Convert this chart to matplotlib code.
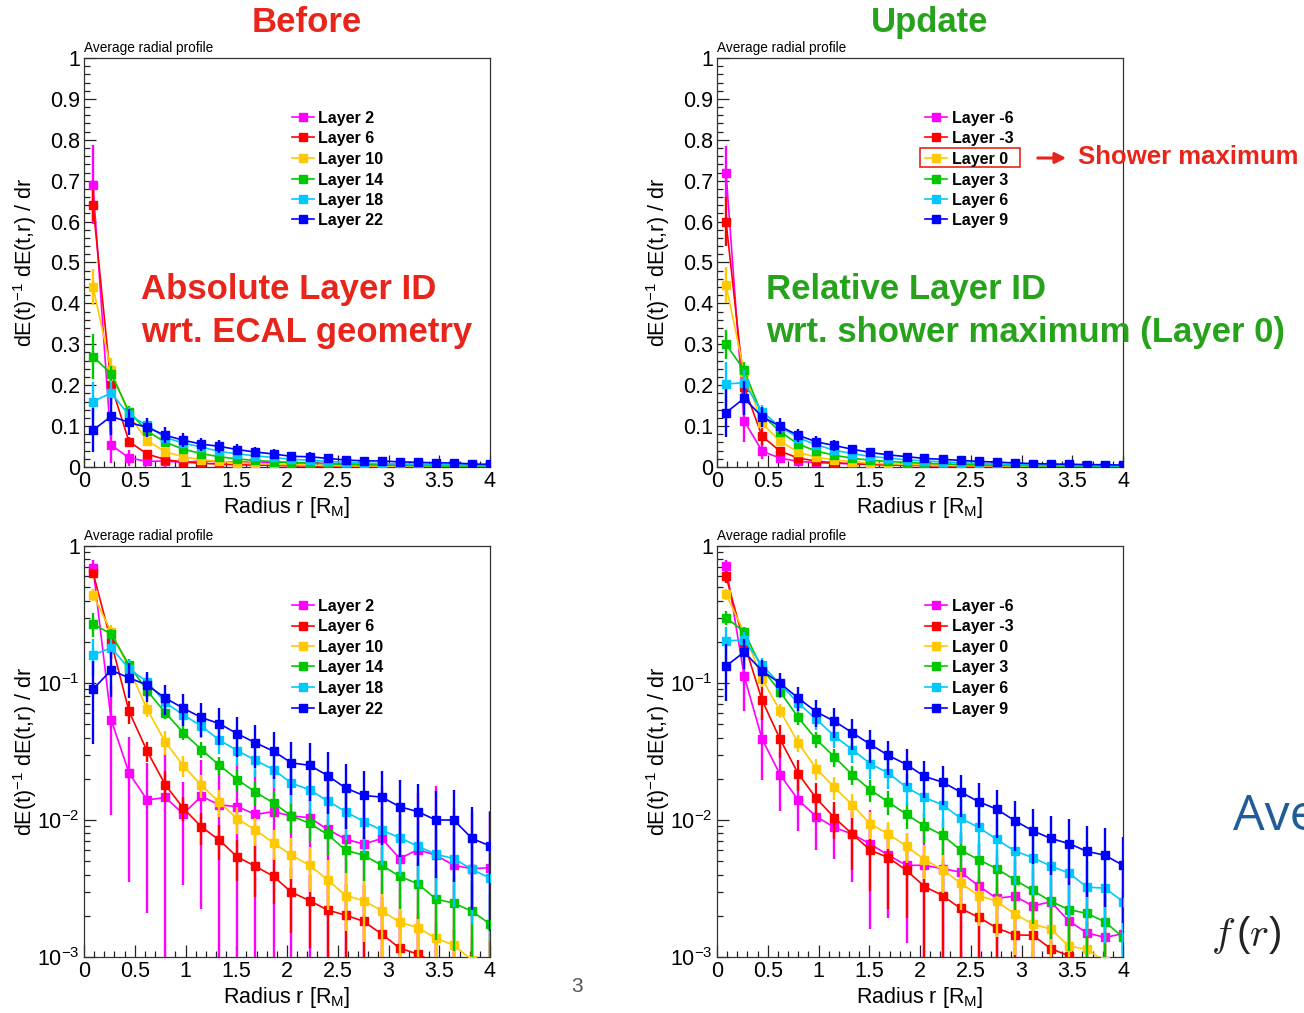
import numpy as np
import matplotlib
matplotlib.use("Agg")
import matplotlib.pyplot as plt
from matplotlib.lines import Line2D
from matplotlib.patches import Rectangle, FancyArrowPatch
from matplotlib.ticker import FixedLocator, MultipleLocator, LogLocator, NullFormatter

plt.rcParams['font.family'] = ['Liberation Sans', 'DejaVu Sans']
plt.rcParams['mathtext.fontset'] = 'custom'
plt.rcParams['mathtext.rm'] = 'Liberation Sans'
plt.rcParams['mathtext.it'] = 'Liberation Sans:italic'
plt.rcParams['mathtext.bf'] = 'Liberation Sans:bold'
plt.rcParams['mathtext.default'] = 'regular'

# ---------------------------------------------------------------- data
# radial bin centres in units of the Moliere radius
radius = [0.089, 0.267, 0.444, 0.622, 0.800, 0.978, 1.156, 1.333, 1.511, 1.689,
          1.867, 2.044, 2.222, 2.400, 2.578, 2.756, 2.933, 3.111, 3.289, 3.467,
          3.644, 3.822, 4.000]

series_colors = ['#ff00ff', '#ff0000', '#ffc800', '#00c800', '#00c8ff', '#0000ff']

# "Before": absolute layer ID wrt. ECAL geometry
before_labels = ['Layer 2', 'Layer 6', 'Layer 10', 'Layer 14', 'Layer 18', 'Layer 22']
before_layer2 = [0.69, 0.054, 0.022, 0.0140, 0.0146, 0.0111, 0.0149, 0.0129, 0.0125, 0.0110,
                 0.0115, 0.0107, 0.0104, 0.00854, 0.00725, 0.00667, 0.00733, 0.00523, 0.00608,
                 0.00553, 0.00467, 0.00441, 0.00449]
before_layer6 = [0.64, 0.20, 0.062, 0.0318, 0.0181, 0.0122, 0.00893, 0.00713, 0.00537, 0.00459,
                 0.00388, 0.00297, 0.00258, 0.00220, 0.00202, 0.00182, 0.00147, 0.00116, 0.00105,
                 0.00090, 0.00080, 0.00070, 0.00065]
before_layer10 = [0.44, 0.237, 0.127, 0.0644, 0.0372, 0.0249, 0.0179, 0.0135, 0.0102, 0.00844,
                  0.00681, 0.00553, 0.00467, 0.00366, 0.00281, 0.00258, 0.00218, 0.00179, 0.00164,
                  0.00137, 0.00122, 0.00095, 0.00080]
before_layer14 = [0.27, 0.228, 0.135, 0.0879, 0.0608, 0.0434, 0.0327, 0.0251, 0.0197, 0.0160,
                  0.0133, 0.0107, 0.00945, 0.00785, 0.00602, 0.00553, 0.00467, 0.00388, 0.00342,
                  0.00265, 0.00247, 0.00216, 0.00174]
before_layer18 = [0.16, 0.181, 0.127, 0.102, 0.0721, 0.0585, 0.0486, 0.0383, 0.0321, 0.0273,
                  0.0233, 0.0186, 0.0166, 0.0138, 0.0115, 0.00973, 0.00844, 0.00741, 0.00644,
                  0.00562, 0.00523, 0.00436, 0.00377]
before_layer22 = [0.09, 0.124, 0.109, 0.0967, 0.0776, 0.0655, 0.0560, 0.0505, 0.0426, 0.0366,
                  0.0318, 0.0261, 0.0251, 0.0211, 0.0171, 0.0151, 0.0147, 0.0125, 0.0115,
                  0.0100, 0.0100, 0.00733, 0.00647]

# relative uncertainties (error / value)
before_err2 = [0.14, 0.80, 0.84, 0.85, 1.10, 0.70, 0.85, 1.05, 1.10, 1.10, 1.10, 1.20, 1.20,
               1.30, 1.30, 1.40, 1.40, 1.50, 1.60, 2.20, 1.60, 1.60, 1.60]
before_err6 = [0.06, 0.25, 0.19, 0.17, 0.25, 0.20, 0.27, 0.28, 0.33, 0.40, 0.37, 0.50, 0.55,
               0.65, 0.70, 0.80, 0.85, 0.90, 0.95, 1.00, 1.00, 1.00, 1.00]
before_err10 = [0.10, 0.12, 0.12, 0.12, 0.20, 0.17, 0.19, 0.22, 0.22, 0.23, 0.25, 0.33, 0.36,
                0.40, 0.45, 0.50, 0.55, 0.60, 0.65, 0.70, 0.75, 0.80, 0.85]
before_err14 = [0.20, 0.08, 0.10, 0.10, 0.10, 0.12, 0.14, 0.15, 0.17, 0.19, 0.22, 0.25, 0.27,
                0.30, 0.32, 0.35, 0.38, 0.42, 0.45, 0.50, 0.55, 0.60, 0.65]
before_err18 = [0.30, 0.15, 0.15, 0.14, 0.15, 0.17, 0.19, 0.21, 0.23, 0.25, 0.27, 0.30, 0.32,
                0.35, 0.38, 0.41, 0.44, 0.47, 0.50, 0.53, 0.56, 0.60, 0.65]
before_err22 = [0.60, 0.36, 0.29, 0.25, 0.25, 0.26, 0.28, 0.30, 0.32, 0.35, 0.37, 0.42, 0.45,
                0.48, 0.50, 0.52, 0.55, 0.57, 0.60, 0.62, 0.65, 0.70, 0.76]

# "Update": layer ID relative to the shower maximum (Layer 0)
update_labels = ['Layer -6', 'Layer -3', 'Layer 0', 'Layer 3', 'Layer 6', 'Layer 9']
update_layer_m6 = [0.72, 0.113, 0.039, 0.0214, 0.0140, 0.0106, 0.00883, 0.00789, 0.00667, 0.00553,
                   0.00467, 0.00467, 0.00441, 0.00417, 0.00330, 0.00268, 0.00278, 0.00236, 0.00253,
                   0.00183, 0.00150, 0.00139, 0.00148]
update_layer_m3 = [0.60, 0.196, 0.075, 0.0388, 0.0218, 0.0144, 0.0104, 0.00789, 0.00602, 0.00531,
                   0.00429, 0.00327, 0.00281, 0.00226, 0.00195, 0.00163, 0.00145, 0.00144, 0.00115,
                   0.00102, 0.00090, 0.00080, 0.00070]
update_layer_0 = [0.445, 0.233, 0.107, 0.0626, 0.0366, 0.0237, 0.0173, 0.0129, 0.00935, 0.00789,
                  0.00644, 0.00514, 0.00434, 0.00346, 0.00281, 0.00255, 0.00206, 0.00174, 0.00160,
                  0.00120, 0.00114, 0.00093, 0.00080]
update_layer_3 = [0.30, 0.237, 0.127, 0.0864, 0.0560, 0.0388, 0.0289, 0.0214, 0.0166, 0.0135,
                  0.0110, 0.00904, 0.00776, 0.00602, 0.00514, 0.00441, 0.00366, 0.00306, 0.00255,
                  0.00222, 0.00208, 0.00181, 0.00139]
update_layer_6 = [0.203, 0.206, 0.135, 0.0983, 0.0713, 0.0544, 0.0410, 0.0327, 0.0257, 0.0220,
                  0.0173, 0.0146, 0.0129, 0.0103, 0.00883, 0.00721, 0.00595, 0.00531, 0.00461,
                  0.00410, 0.00324, 0.00318, 0.00254]
update_layer_9 = [0.133, 0.168, 0.123, 0.0994, 0.0776, 0.0616, 0.0526, 0.0434, 0.0356, 0.0296,
                  0.0254, 0.0208, 0.0189, 0.0160, 0.0136, 0.0120, 0.00989, 0.00835, 0.00733,
                  0.00673, 0.00591, 0.00553, 0.00467]

update_err_m6 = [0.09, 0.45, 0.50, 0.46, 0.41, 0.43, 0.41, 0.55, 0.76, 0.65, 0.73, 0.85, 0.90,
                 0.95, 1.00, 1.00, 1.00, 1.05, 1.05, 1.10, 1.10, 1.10, 1.10]
update_err_m3 = [0.10, 0.15, 0.28, 0.27, 0.25, 0.30, 0.30, 0.45, 0.50, 0.58, 0.55, 0.70, 0.80,
                 0.85, 0.90, 0.95, 1.00, 1.00, 1.00, 1.00, 1.00, 1.00, 1.00]
update_err_0 = [0.10, 0.10, 0.12, 0.12, 0.14, 0.17, 0.19, 0.20, 0.22, 0.22, 0.25, 0.28, 0.32,
                0.36, 0.40, 0.45, 0.50, 0.55, 0.60, 0.65, 0.70, 0.75, 0.80]
update_err_3 = [0.12, 0.08, 0.10, 0.10, 0.12, 0.13, 0.15, 0.16, 0.18, 0.20, 0.22, 0.25, 0.28,
                0.31, 0.34, 0.37, 0.40, 0.43, 0.47, 0.50, 0.55, 0.60, 0.65]
update_err_6 = [0.27, 0.15, 0.12, 0.12, 0.14, 0.16, 0.18, 0.20, 0.22, 0.24, 0.26, 0.29, 0.32,
                0.35, 0.38, 0.41, 0.44, 0.47, 0.50, 0.53, 0.56, 0.60, 0.65]
update_err_9 = [0.44, 0.25, 0.20, 0.20, 0.20, 0.22, 0.24, 0.25, 0.27, 0.28, 0.30, 0.30, 0.32,
                0.34, 0.36, 0.38, 0.40, 0.43, 0.46, 0.50, 0.54, 0.58, 0.62]

before_values = [before_layer2, before_layer6, before_layer10,
                 before_layer14, before_layer18, before_layer22]
before_errors = [before_err2, before_err6, before_err10,
                 before_err14, before_err18, before_err22]
update_values = [update_layer_m6, update_layer_m3, update_layer_0,
                 update_layer_3, update_layer_6, update_layer_9]
update_errors = [update_err_m6, update_err_m3, update_err_0,
                 update_err_3, update_err_6, update_err_9]

lin_ticks = [0, 0.1, 0.2, 0.3, 0.4, 0.5, 0.6, 0.7, 0.8, 0.9, 1.0]
lin_tick_labels = ['0', '0.1', '0.2', '0.3', '0.4', '0.5', '0.6', '0.7', '0.8', '0.9', '1']
log_ticks = [1e-3, 1e-2, 1e-1, 1.0]
log_tick_labels = [r'$10^{-3}$', r'$10^{-2}$', r'$10^{-1}$', '1']
x_ticks = [0, 0.5, 1, 1.5, 2, 2.5, 3, 3.5, 4]
x_tick_labels = ['0', '0.5', '1', '1.5', '2', '2.5', '3', '3.5', '4']

RED_TXT = '#e8251a'
GREEN_TXT = '#26a31a'

# ---------------------------------------------------------------- figure
W, H = 1304, 1013
fig = plt.figure(figsize=(W / 100, H / 100), dpi=100)
fig.patch.set_facecolor('white')


def fx(x):
    return x / W


def fy(y):
    return 1 - y / H


def make_axes(x0, x1, ytop, ybot):
    return fig.add_axes([fx(x0), fy(ybot), (x1 - x0) / W, (ybot - ytop) / H])


def draw_profiles(ax, values, errors, log):
    r = np.array(radius)
    for i, (vals, rel, col) in enumerate(zip(values, errors, series_colors)):
        v = np.array(vals)
        e = v * np.array(rel)
        lo = v - e
        hi = v + e
        if log:
            lo = np.clip(lo, 1e-6, None)
        z = 2 + i
        ax.vlines(r, lo, hi, colors=col, lw=1.7, zorder=z)
        ax.plot(r, v, '-', color=col, lw=1.2, zorder=z + 0.2)
        ax.plot(r, v, 's', color=col, ms=6.0, mec=col, zorder=z + 0.4)

    ax.set_xlim(0, 4)
    if log:
        ax.set_yscale('log', nonpositive='clip')
        ax.set_ylim(1e-3, 1)
        ax.yaxis.set_major_locator(FixedLocator(log_ticks))
        ax.set_yticklabels(log_tick_labels)
        ax.yaxis.set_minor_locator(LogLocator(base=10, subs=np.arange(2, 10)))
        ax.yaxis.set_minor_formatter(NullFormatter())
    else:
        ax.set_ylim(0, 1)
        ax.set_yticks(lin_ticks)
        ax.set_yticklabels(lin_tick_labels)
        ax.yaxis.set_minor_locator(MultipleLocator(0.02))
    ax.set_xticks(x_ticks)
    ax.set_xticklabels(x_tick_labels)
    ax.xaxis.set_minor_locator(MultipleLocator(0.1))
    ax.tick_params(which='both', direction='in', top=False, right=False,
                   color='#222222', width=0.9)
    ax.tick_params(which='major', length=8.6, labelsize=15.5, pad=3)
    ax.tick_params(which='minor', length=4.4)
    for s in ax.spines.values():
        s.set_color('#333333')
        s.set_linewidth(0.9)


def draw_legend(x0, x1, xt, ys, labels):
    for y, lab, col in zip(ys, labels, series_colors):
        fig.add_artist(Line2D([fx(x0), fx(x1)], [fy(y), fy(y)], color=col, lw=1.2,
                              transform=fig.transFigure))
        fig.add_artist(Line2D([fx((x0 + x1) / 2)], [fy(y)], marker='s', ms=6.0,
                              color=col, linestyle='none', transform=fig.transFigure))
        fig.text(fx(xt), fy(y), lab, fontsize=11.5, fontweight='bold',
                 ha='left', va='center_baseline', color='black')


panels = [
    (84, 490, 58, 467, before_values, before_errors, False, before_labels),
    (717, 1123, 58, 467, update_values, update_errors, False, update_labels),
    (84, 490, 546, 957, before_values, before_errors, True, before_labels),
    (717, 1123, 546, 957, update_values, update_errors, True, update_labels),
]

legend_rows_top = [117, 137, 158, 178.5, 199, 219]
legend_rows_bottom = [605.5, 625.5, 646, 666, 687, 707.5]

ylabel = r'dE(t)$^{-1}$ dE(t,r) / dr'
xlabel = r'Radius r [R$_{\mathrm{M}}$]'

for (x0, x1, yt, yb, vals, errs, log, labels) in panels:
    ax = make_axes(x0, x1, yt, yb)
    draw_profiles(ax, vals, errs, log)
    fig.text(fx(x0), fy(yt - 6), 'Average radial profile', fontsize=9.8,
             ha='left', va='baseline')
    fig.text(fx(x0 - 59), fy((yt + yb) / 2), ylabel,
             rotation=90, fontsize=15.5, ha='center', va='center')
    fig.text(fx((x0 + x1) / 2), fy(yb + 46), xlabel, fontsize=15.5,
             ha='center', va='baseline')
    rows = legend_rows_top if yt < 300 else legend_rows_bottom
    if x0 < 500:
        draw_legend(292, 314, 318, rows, labels)
    else:
        draw_legend(925, 947, 952, rows, labels)

# headings
fig.text(fx(307), fy(32), 'Before', color=RED_TXT, fontsize=25, fontweight='bold',
         ha='center', va='baseline')
fig.text(fx(930), fy(32), 'Update', color=GREEN_TXT, fontsize=25, fontweight='bold',
         ha='center', va='baseline')

# explanatory labels inside the linear panels
fig.text(fx(141), fy(299), 'Absolute Layer ID', color=RED_TXT, fontsize=25,
         fontweight='bold', ha='left', va='baseline')
fig.text(fx(141), fy(342), 'wrt. ECAL geometry', color=RED_TXT, fontsize=25,
         fontweight='bold', ha='left', va='baseline')
fig.text(fx(766), fy(299), 'Relative Layer ID', color=GREEN_TXT, fontsize=25,
         fontweight='bold', ha='left', va='baseline')
fig.text(fx(766), fy(342), 'wrt. shower maximum (Layer 0)', color=GREEN_TXT,
         fontsize=25, fontweight='bold', ha='left', va='baseline')

# shower-maximum callout
fig.add_artist(Rectangle((fx(920), fy(167.5)), 100 / W, 19 / H, fill=False,
                         ec=RED_TXT, lw=1.2, transform=fig.transFigure))
fig.add_artist(FancyArrowPatch((fx(1035), fy(158)), (fx(1069), fy(158)),
                               arrowstyle='-|>', mutation_scale=16, color=RED_TXT,
                               lw=2.2, transform=fig.transFigure))
fig.text(fx(1078), fy(164), 'Shower maximum', color=RED_TXT, fontsize=18.5,
         fontweight='bold', ha='left', va='baseline')

# slide furniture
fig.text(fx(577), fy(986), '3', color='#555555', fontsize=15, ha='center', va='center')
fig.text(fx(1233), fy(830), 'Ave', color='#1f5c99', fontsize=36, ha='left',
         va='baseline', family=['Open Sans', 'DejaVu Sans'])
fig.text(fx(1246), fy(935), r'$\mathit{f}\,(\mathit{r})$', fontsize=29, math_fontfamily='cm',
         ha='center', va='center', color='#222222')

fig.savefig('out.png', dpi=100, facecolor='white')
